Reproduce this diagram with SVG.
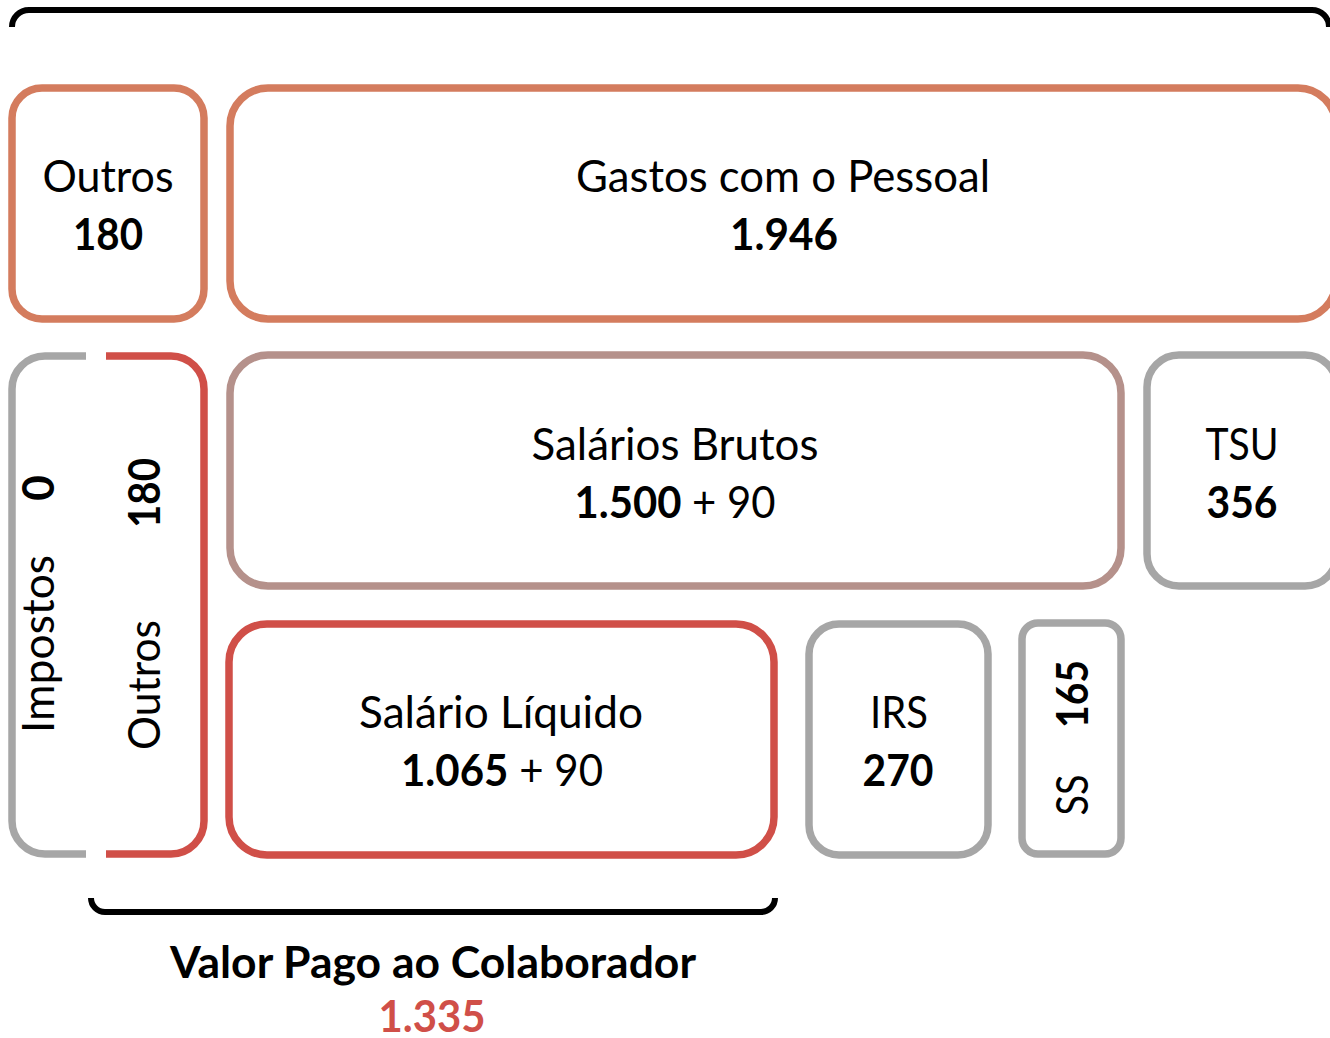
<svg xmlns="http://www.w3.org/2000/svg" width="1330" height="1038" viewBox="0 0 1330 1038">
<style>
text{font-family:Lato,"Open Sans","Liberation Sans",sans-serif;font-size:44px;fill:#000;text-anchor:middle}
.b{font-weight:bold}
.box{fill:#fff;stroke-width:7.5}
.or{stroke:#D47C5E}
.rd{stroke:#D04F48}
.gy{stroke:#A6A6A6}
.br{stroke:#B5918B}
.line{fill:none;stroke:#000;stroke-width:6;stroke-linecap:butt}
</style>
<rect width="1330" height="1038" fill="#fff"/>
<g id="connectors">
<path class="line" d="M12 27 A17 17 0 0 1 29 10 L1312 10 A17 17 0 0 1 1329 27"/>
<path class="line" d="M91 898 A14 14 0 0 0 105 912 L761 912 A14 14 0 0 0 775 898"/>
</g>
<g id="outros-top">
<rect class="box or" x="12" y="88" width="192" height="231" rx="30"/>
<text x="108" y="192" textLength="131" lengthAdjust="spacingAndGlyphs">Outros</text>
<text class="b" x="108" y="250" textLength="70" lengthAdjust="spacingAndGlyphs">180</text>
</g>
<g id="gastos">
<rect class="box or" x="230" y="88" width="1106" height="231" rx="38"/>
<text x="783" y="192" textLength="414" lengthAdjust="spacingAndGlyphs">Gastos com o Pessoal</text>
<text class="b" x="784" y="250" textLength="108" lengthAdjust="spacingAndGlyphs">1.946</text>
</g>
<g id="impostos">
<path fill="none" class="gy" stroke-width="7.5" d="M86 356 L45 356 A33 33 0 0 0 12 389 L12 821 A33 33 0 0 0 45 854 L86 854"/>
<text transform="translate(54 644) rotate(-90)" textLength="178" lengthAdjust="spacingAndGlyphs">Impostos</text>
<text class="b" transform="translate(54 488) rotate(-90)">0</text>
</g>
<g id="outros-side">
<path fill="none" class="rd" stroke-width="7.5" d="M106 356 L171 356 A33 33 0 0 1 204 389 L204 821 A33 33 0 0 1 171 854 L106 854"/>
<text transform="translate(160 685) rotate(-90)" textLength="130" lengthAdjust="spacingAndGlyphs">Outros</text>
<text class="b" transform="translate(160 493) rotate(-90)" textLength="70" lengthAdjust="spacingAndGlyphs">180</text>
</g>
<g id="salarios-brutos">
<rect class="box br" x="230" y="355" width="891" height="231" rx="38"/>
<text x="675" y="460" textLength="287" lengthAdjust="spacingAndGlyphs">Salários Brutos</text>
<text x="675" y="518" textLength="201" lengthAdjust="spacingAndGlyphs"><tspan class="b">1.500</tspan> + 90</text>
</g>
<g id="tsu">
<rect class="box gy" x="1147" y="355" width="190" height="231" rx="32"/>
<text x="1242" y="460" textLength="73" lengthAdjust="spacingAndGlyphs">TSU</text>
<text class="b" x="1242" y="518" textLength="71" lengthAdjust="spacingAndGlyphs">356</text>
</g>
<g id="salario-liquido">
<rect class="box rd" x="229" y="624" width="545" height="231" rx="38"/>
<text x="501" y="728" textLength="284" lengthAdjust="spacingAndGlyphs">Salário Líquido</text>
<text x="502" y="786" textLength="202" lengthAdjust="spacingAndGlyphs"><tspan class="b">1.065</tspan> + 90</text>
</g>
<g id="irs">
<rect class="box gy" x="809" y="624" width="179" height="231" rx="30"/>
<text x="899" y="728" textLength="58" lengthAdjust="spacingAndGlyphs">IRS</text>
<text class="b" x="898" y="786" textLength="71" lengthAdjust="spacingAndGlyphs">270</text>
</g>
<g id="ss">
<rect class="box gy" x="1022" y="623" width="99" height="231" rx="16"/>
<text transform="translate(1088 795) rotate(-90)" textLength="41" lengthAdjust="spacingAndGlyphs">SS</text>
<text class="b" transform="translate(1088 694) rotate(-90)" textLength="68" lengthAdjust="spacingAndGlyphs">165</text>
</g>
<g id="valor-pago">
<text class="b" x="433" y="978" textLength="526" lengthAdjust="spacingAndGlyphs">Valor Pago ao Colaborador</text>
<text class="b" x="432" y="1032" style="fill:#D04F48" textLength="107" lengthAdjust="spacingAndGlyphs">1.335</text>
</g>
</svg>
